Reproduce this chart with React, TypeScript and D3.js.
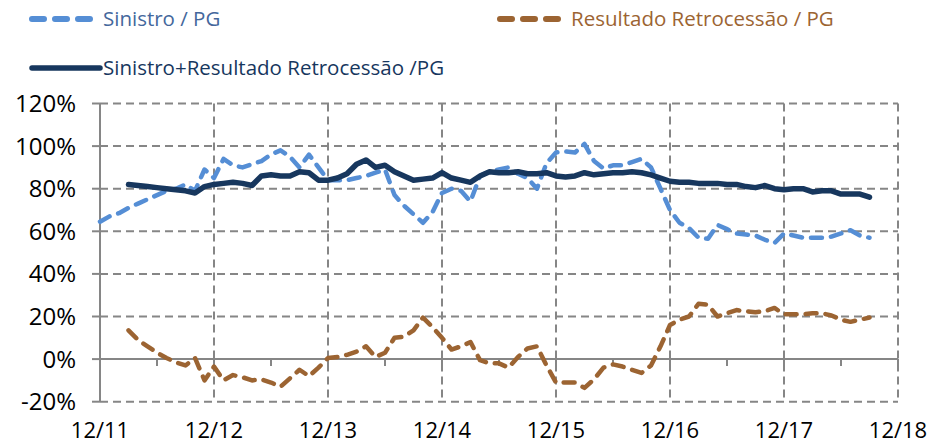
import * as d3 from 'd3';

// monthly index: 0 = 12/11 ... 81 = 9/18
const sinistro: (number | null)[] = [
  64.5, 67, 68.5, 71, 73, 75, 77, 79, 80, 82, 79, 89,
  85, 94, 91, 90, 91.5, 93, 96, 98, 95, 90, 96, 90,
  84, 84, 84, 85, 86, 87.5, 89, 77, 72, 68, 64, 69,
  78, 80, 79, 74, 86, 88, 89, 90, 87, 85, 80, 92,
  97, 97.5, 97, 101, 93, 89.5, 91, 91, 92.5, 94, 90, 80,
  70, 64, 61.5, 57, 56.5, 63, 61, 59, 58.5, 58, 56, 54.5,
  59, 58, 57, 57, 57, 57.5, 59, 60.5, 58, 57,
];

const retrocessao: (number | null)[] = [
  null, null, null, 13.5, 9, 6, 3, 0.5, -1.5, -3, 0.5, -10,
  -3.5, -10, -7.5, -8.5, -10, -9.5, -11, -13, -9, -5, -8, -4,
  0.5, 1, 2, 3.5, 6, 1, 3, 10, 10.5, 13.5, 19.5, 15,
  10, 4.5, 6, 8, -0.5, -2, -2, -4, 1, 5, 6, -3,
  -11, -11, -11, -13.5, -9.5, -4, -2.5, -3.5, -5, -6.5, -3, 6,
  16, 18.5, 20, 26, 25.5, 20, 21.5, 23, 22.5, 22, 22.5, 24,
  21, 21, 21, 21.5, 21.5, 20.5, 18.5, 17.5, 18.5, 19.5,
];

const total: (number | null)[] = [
  null, null, null, 82, 81.5, 81, 80.5, 80, 79.5, 79, 78, 81,
  82, 82.5, 83, 82.5, 81.5, 86, 86.5, 86, 86, 88, 87.5, 84,
  84, 85, 87, 91.5, 93.5, 90, 91, 88, 86, 84, 84.5, 85,
  87.5, 85, 84, 83, 86, 88, 87.5, 87.5, 88, 87, 87, 87.5,
  86, 85.5, 86, 87.5, 86.5, 87, 87.5, 87.5, 88, 87.5, 86.5, 85,
  83.5, 83, 83, 82.5, 82.5, 82.5, 82, 82, 81, 80.5, 81.5, 80,
  79.5, 80, 80, 78.5, 79, 79, 77.5, 77.5, 77.5, 76,
];

const xTickLabels = ['12/11', '12/12', '12/13', '12/14', '12/15', '12/16', '12/17', '12/18'];
const yTicks = [-20, 0, 20, 40, 60, 80, 100, 120];

const series = [
  { label: 'Sinistro / PG', values: sinistro, color: '#558ED5', text: '#44679C', dash: '11,9', w: 4.5 },
  { label: 'Resultado Retrocessão / PG', values: retrocessao, color: '#9C6432', text: '#9C6432', dash: '11,9', w: 4.5 },
  { label: 'Sinistro+Resultado Retrocessão /PG', values: total, color: '#17375E', text: '#17375E', dash: null, w: 5.5 },
];

const font = "'Open Sans', sans-serif";
const gridColor = '#868686';

export default function App() {
  const width = 930;
  const height = 445;
  const x = d3.scaleLinear().domain([0, 84]).range([100, 898]);
  const y = d3.scaleLinear().domain([-20, 120]).range([401.7, 103.5]);
  const months = d3.range(0, 85, 6);

  const line = d3
    .line<number | null>()
    .defined(d => d != null)
    .x((_, i) => x(i))
    .y(d => y(d as number));

  const legendPos = [
    { x: 30, y: 19 },
    { x: 498, y: 19 },
    { x: 30, y: 68 },
  ];

  return (
    <svg width={width} height={height} style={{ position: 'absolute', left: 0, top: 0, background: '#fff' }}>
      {/* horizontal grid */}
      {yTicks.map(t => (
        <line
          key={'h' + t}
          x1={x(0)}
          x2={x(84)}
          y1={y(t)}
          y2={y(t)}
          stroke={gridColor}
          strokeWidth={2}
          strokeDasharray={t === 0 ? undefined : '8,5'}
        />
      ))}
      {/* vertical grid */}
      {xTickLabels.map((_, i) =>
        i === 0 ? null : (
          <line
            key={'v' + i}
            x1={x(i * 12)}
            x2={x(i * 12)}
            y1={y(120)}
            y2={y(-20)}
            stroke={gridColor}
            strokeWidth={2}
            strokeDasharray="8,5"
          />
        )
      )}
      {/* y axis */}
      <line x1={x(0)} x2={x(0)} y1={y(120)} y2={y(-20)} stroke={gridColor} strokeWidth={2} />
      {yTicks.map(t => (
        <line key={'yt' + t} x1={x(0) - 8} x2={x(0)} y1={y(t)} y2={y(t)} stroke={gridColor} strokeWidth={2} />
      ))}
      {/* minor ticks on zero line */}
      {months.map(m => (
        <line key={'mt' + m} x1={x(m)} x2={x(m)} y1={y(0)} y2={y(0) + 7} stroke={gridColor} strokeWidth={2} />
      ))}
      {/* y labels */}
      {yTicks.map(t => (
        <text
          key={'yl' + t}
          x={76}
          y={y(t) + 8.5}
          textAnchor="end"
          fontFamily={font}
          fontSize={24}
          fill="#000"
        >
          {t + '%'}
        </text>
      ))}
      {/* x labels */}
      {xTickLabels.map((l, i) => (
        <text key={'xl' + l} x={x(i * 12)} y={438} textAnchor="middle" fontFamily={font} fontSize={22} fill="#000">
          {l}
        </text>
      ))}
      {/* series */}
      {series.map(s => (
        <path
          key={s.label}
          d={line(s.values) || ''}
          fill="none"
          stroke={s.color}
          strokeWidth={s.w}
          strokeLinecap="round"
          strokeLinejoin="round"
          strokeDasharray={s.dash || undefined}
        />
      ))}
      {/* legend */}
      {series.map((s, i) => (
        <g key={'lg' + i} transform={`translate(${legendPos[i].x},${legendPos[i].y})`}>
          <line
            x1={2}
            x2={s.dash ? 66 : 70}
            y1={0}
            y2={0}
            stroke={s.color}
            strokeWidth={s.dash ? 6 : 5.5}
            strokeLinecap="round"
            strokeDasharray={s.dash ? '12,11' : undefined}
          />
          <text x={73} y={7} fontFamily={font} fontSize={20.5} fill={s.text}>
            {s.label}
          </text>
        </g>
      ))}
    </svg>
  );
}
